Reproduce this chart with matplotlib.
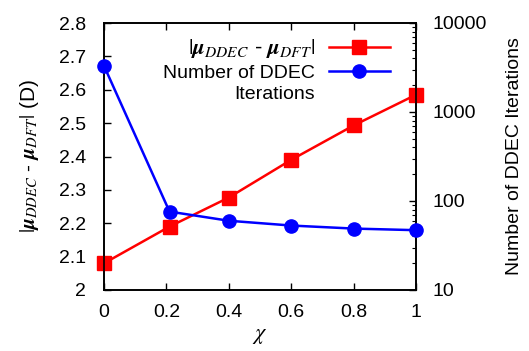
import matplotlib
matplotlib.use("Agg")
import matplotlib.pyplot as plt
from matplotlib.lines import Line2D
from matplotlib.ticker import LogLocator, NullFormatter, FixedLocator

plt.rcParams["font.family"] = ["Liberation Sans", "DejaVu Sans"]
plt.rcParams["mathtext.fontset"] = "stix"

chi = [0.0, 0.21, 0.4, 0.6, 0.8, 1.0]
dipole_err = [2.08, 2.19, 2.277, 2.39, 2.493, 2.585]
chi_it = [0.0, 0.21, 0.4, 0.6, 0.8, 1.0]
iterations = [3300, 76, 60, 53, 49, 47]

RED = "#ff0000"
BLUE = "#0000ff"

fig = plt.figure(figsize=(5.29, 3.51), dpi=100)
ax = fig.add_axes([104 / 529, 1 - 290 / 351, 312 / 529, 267 / 351])
ax2 = ax.twinx()

l1, = ax.plot(chi, dipole_err, color=RED, lw=1.8, marker="s", ms=10.5,
              clip_on=False, zorder=3)
l2, = ax2.plot(chi_it, iterations, color=BLUE, lw=1.8, marker="o", ms=9.5,
               clip_on=False, zorder=3)

ax.set_xlim(0, 1)
ax.set_ylim(2, 2.8)
ax.set_xticks([0, 0.2, 0.4, 0.6, 0.8, 1])
ax.set_xticklabels(["0", "0.2", "0.4", "0.6", "0.8", "1"])
ax.set_yticks([2, 2.1, 2.2, 2.3, 2.4, 2.5, 2.6, 2.7, 2.8])
ax.set_yticklabels(["2", "2.1", "2.2", "2.3", "2.4", "2.5", "2.6", "2.7", "2.8"])
ax.tick_params(axis="x", direction="in", length=5, width=1, labelsize=14, top=True, pad=10)
ax.tick_params(axis="y", direction="in", length=5, width=1, labelsize=14, pad=13)

ax2.set_yscale("log")
ax2.set_ylim(10, 10000)
ax2.yaxis.set_major_locator(FixedLocator([10, 100, 1000, 10000]))
ax2.set_yticklabels(["10", "100", "1000", "10000"])
ax2.yaxis.set_minor_locator(LogLocator(base=10, subs=range(2, 10)))
ax2.yaxis.set_minor_formatter(NullFormatter())
ax2.tick_params(which="major", direction="in", length=5, width=1, labelsize=14, pad=12)
ax2.tick_params(which="minor", direction="in", length=3, width=0.8)

for a in (ax, ax2):
    for s in a.spines.values():
        s.set_linewidth(1.2)

ax.set_xlabel(r"$\chi$", fontsize=16, labelpad=3)
ax.set_ylabel(r"$|\mathbfit{\mu}_{DDEC}$ - $\mathbfit{\mu}_{DFT}|$ (D)", fontsize=15,
              labelpad=13)
ax2.set_ylabel("Number of DDEC Iterations", fontsize=14, labelpad=14)

blank = Line2D([], [], color="none")
leg = ax.legend([l1, l2, blank],
                [r"$|\mathbfit{\mu}_{DDEC}$ - $\mathbfit{\mu}_{DFT}|$",
                 "Number of DDEC", "Iterations"],
                loc="upper right", bbox_to_anchor=(0.965, 1.005), frameon=False,
                markerfirst=False, handlelength=3.1, fontsize=14,
                labelspacing=0.2, handletextpad=0.75, borderpad=0.3)
leg.get_texts()[0].set_fontsize(16)

fig.savefig("out.png", dpi=100)
